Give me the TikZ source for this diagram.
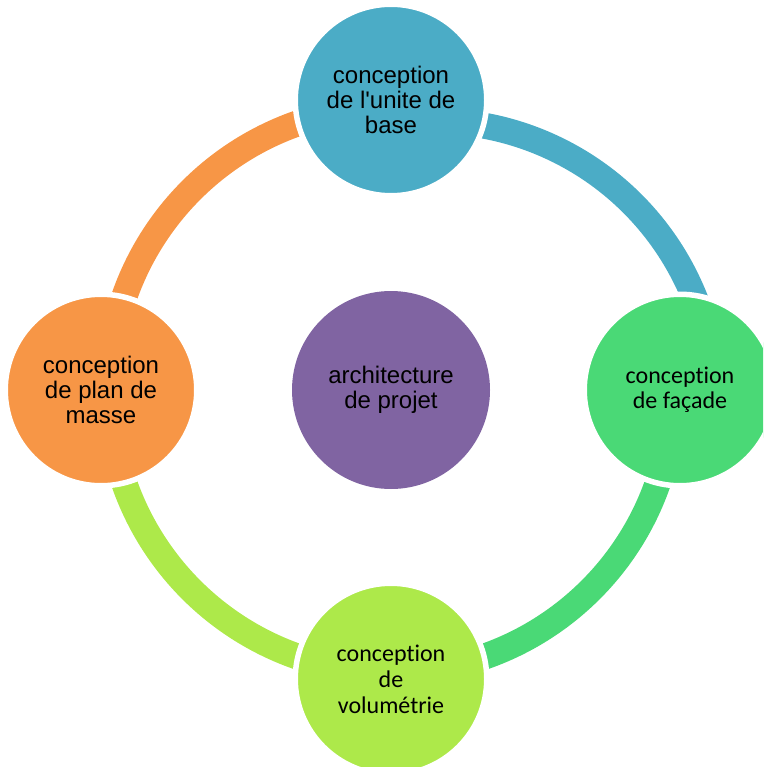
\documentclass[tikz,border=0pt]{standalone}
\usepackage{fontspec}
\setmainfont{Liberation Sans}
\newfontfamily\arialfont{Liberation Sans}[Ligatures=NoCommon]
\newfontfamily\calfont{Carlito}[Ligatures=NoCommon]
\definecolor{cteal}{HTML}{4BACC6}
\definecolor{cgreen}{HTML}{4AD976}
\definecolor{clime}{HTML}{ADE94A}
\definecolor{corange}{HTML}{F79646}
\definecolor{cpurple}{HTML}{8064A2}
\begin{document}
\begin{tikzpicture}[x=1pt,y=-1pt,
  ringarc/.style={line width=26pt},
  bubble/.style={circle, inner sep=0pt, minimum size=191.5pt, draw=white, line width=5.5pt, align=center, text=black, font=\arialfont\fontsize{24}{25}\selectfont},
  hub/.style={circle, inner sep=0pt, minimum size=198pt, align=center, text=black, font=\arialfont\fontsize{24}{25}\selectfont}]
\useasboundingbox (0,0) rectangle (763,767);
\clip (0,0) rectangle (763,767);
% arcs
\draw[ringarc, cteal] ([shift={(-98:282)}]433,403) arc[start angle=-98, end angle=0, radius=282];
\draw[ringarc, cgreen] ([shift={(10:282.5)}]391,390) arc[start angle=10, end angle=80, radius=282.5];
\draw[ringarc, clime] ([shift={(100:282.5)}]391,390) arc[start angle=100, end angle=170, radius=282.5];
\draw[ringarc, corange] ([shift={(190:282.5)}]391,390) arc[start angle=190, end angle=260, radius=282.5];
% circles
\node[bubble, fill=cteal] (top) at (391,100) {conception\\de l'unite de\\base};
\node[bubble, fill=cgreen, font=\calfont\fontsize{24}{25}\selectfont] (right) at (680,390) {conception\\de façade};
\node[bubble, fill=clime, font=\calfont\fontsize{24}{26}\selectfont] (bottom) at (391,679) {conception\\de\\volumétrie};
\node[bubble, fill=corange] (left) at (101,390) {conception\\de plan de\\masse};
\node[hub, fill=cpurple] (hubnode) at (391,390) {architecture\\de projet};
\end{tikzpicture}
\end{document}
